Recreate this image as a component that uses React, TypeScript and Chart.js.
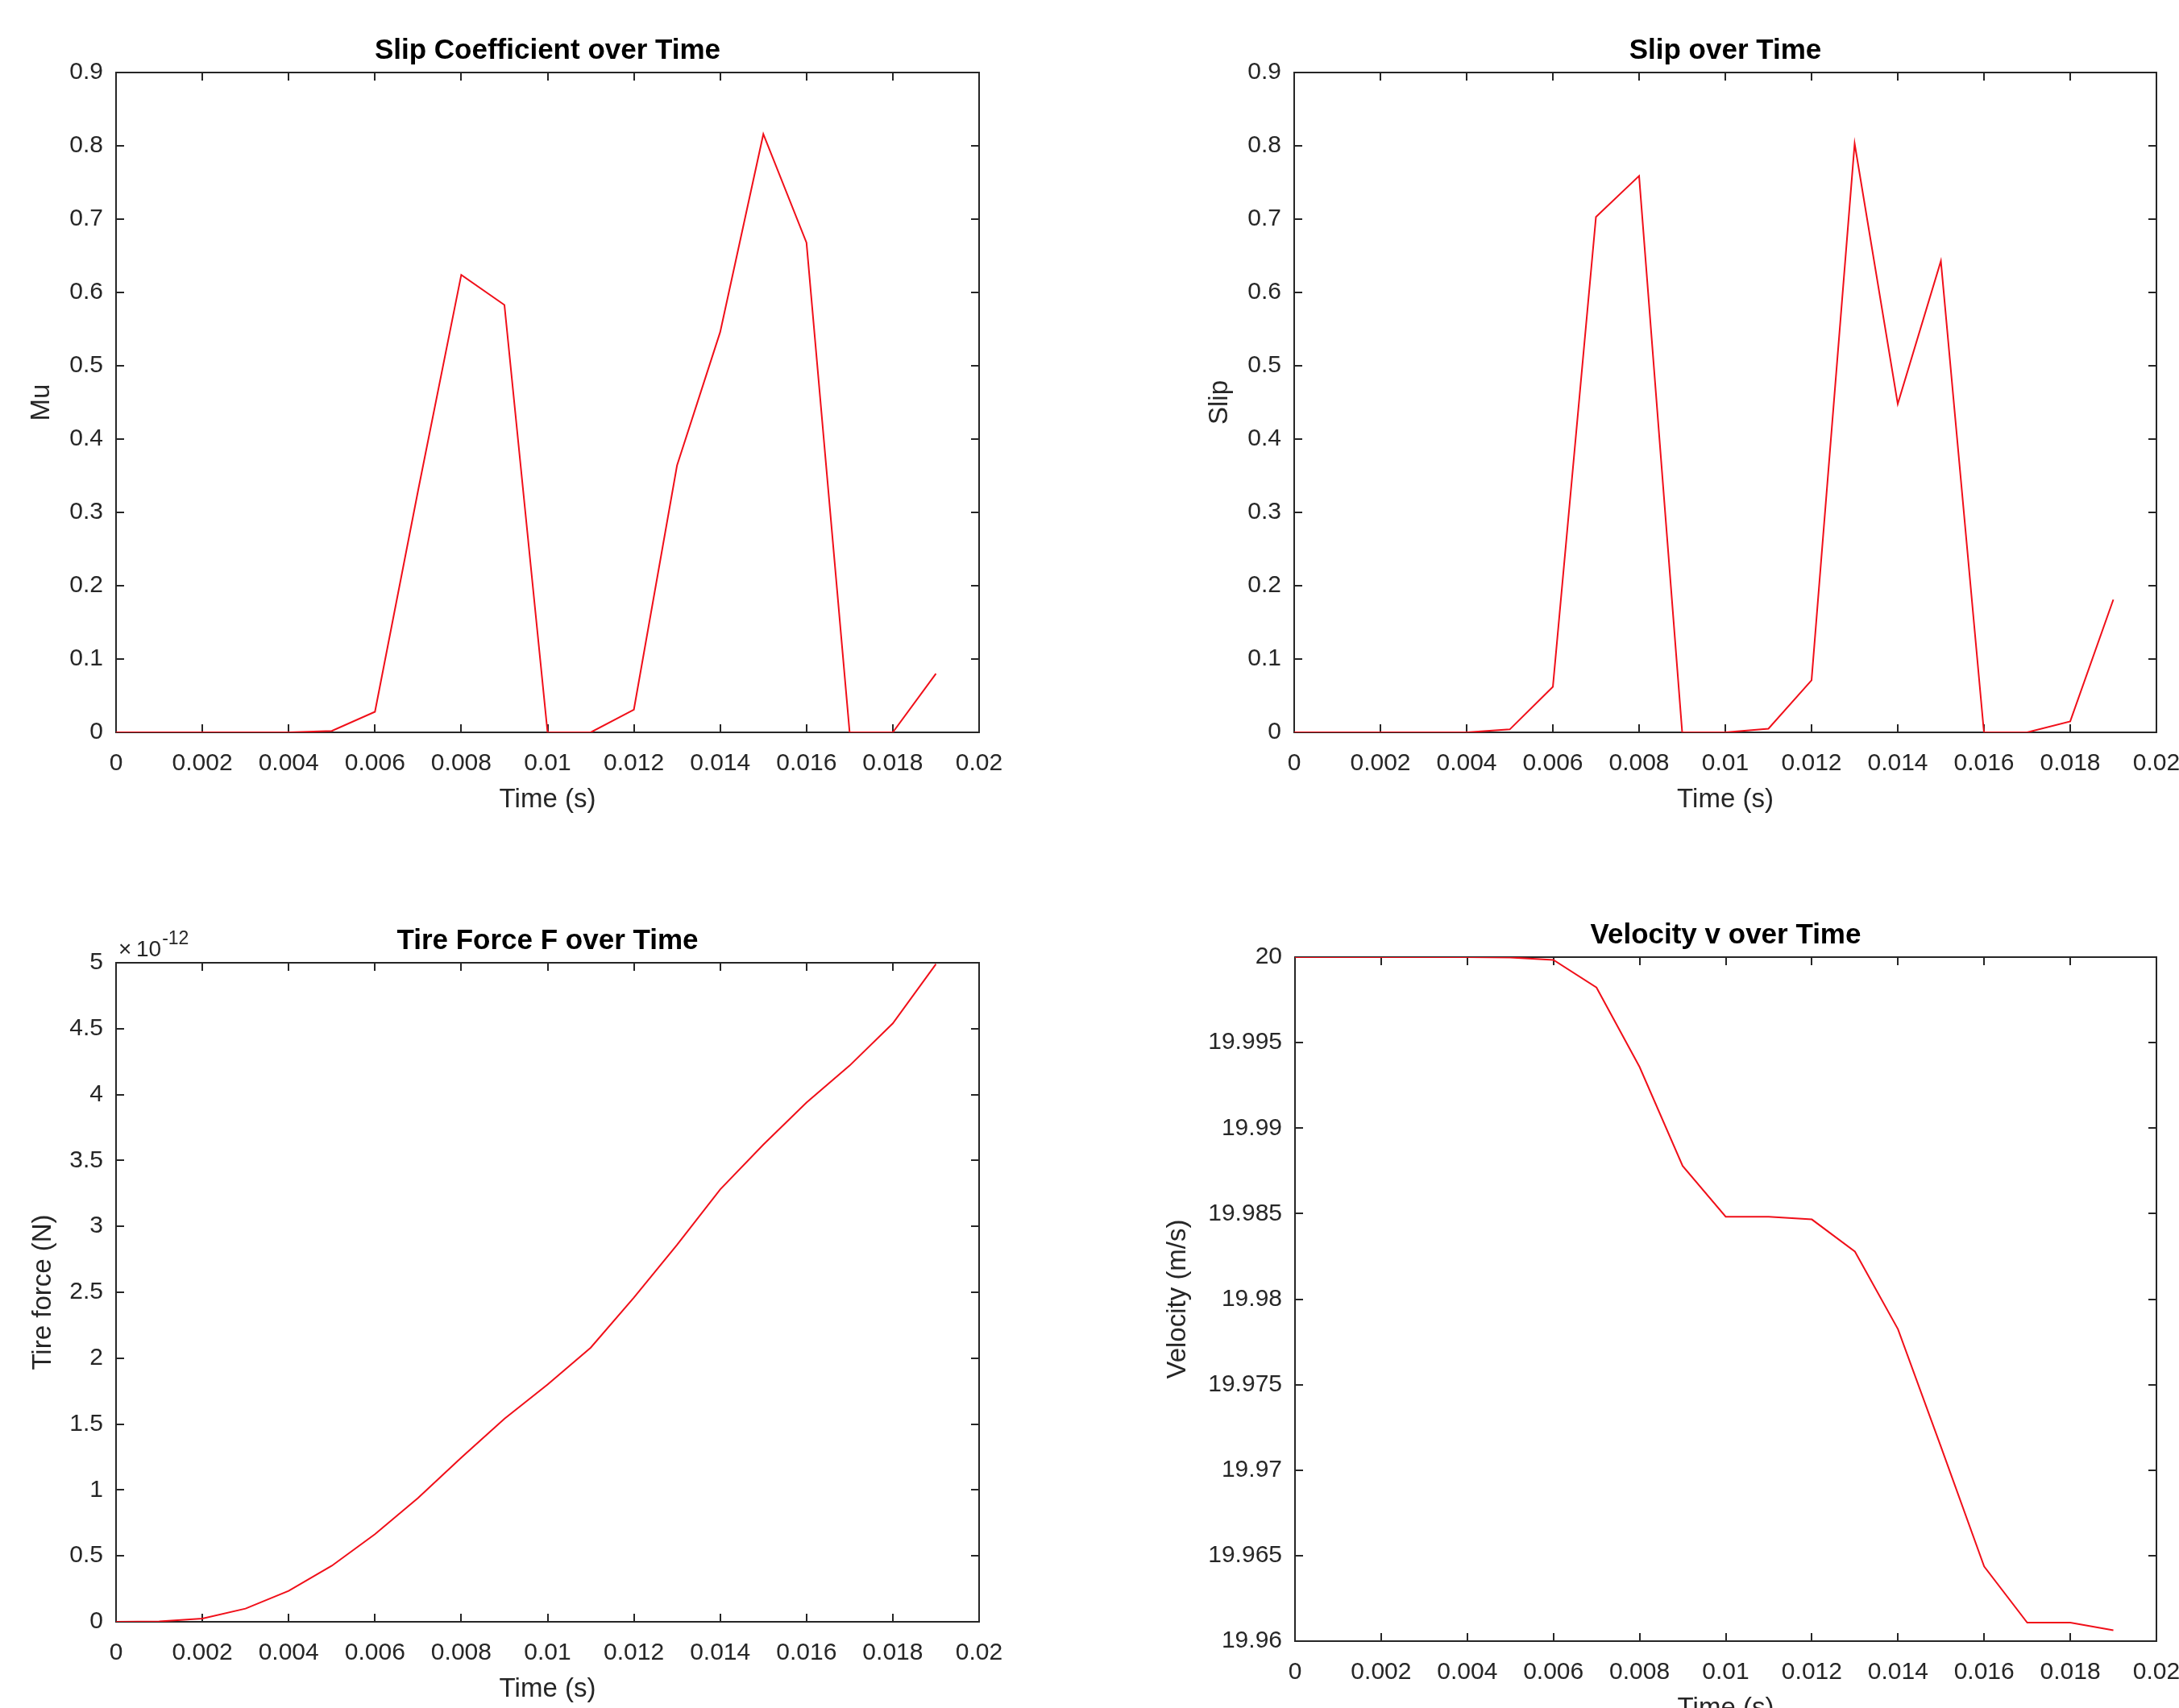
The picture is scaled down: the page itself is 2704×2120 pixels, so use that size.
import React, { useEffect, useRef } from "react";
import { Chart, registerables } from "chart.js";

Chart.register(...registerables);

// ---------- data ----------
const timeS = [0, 0.001, 0.002, 0.003, 0.004, 0.005, 0.006, 0.007, 0.008, 0.009, 0.01, 0.011, 0.012, 0.013, 0.014, 0.015, 0.016, 0.017, 0.018, 0.019];
const muValues = [0, 0, 0, 0, 0, 0.002, 0.028, 0.33, 0.624, 0.583, 0, 0, 0.031, 0.364, 0.546, 0.816, 0.668, 0, 0, 0.08];
const slipValues = [0, 0, 0, 0, 0, 0.004, 0.062, 0.703, 0.759, 0, 0, 0.005, 0.071, 0.803, 0.448, 0.643, 0, 0, 0.015, 0.181];
const tireForceValues = [0, 0.003e-12, 0.025e-12, 0.1e-12, 0.235e-12, 0.425e-12, 0.665e-12, 0.94e-12, 1.246e-12, 1.54e-12, 1.8e-12, 2.08e-12, 2.46e-12, 2.86e-12, 3.28e-12, 3.62e-12, 3.94e-12, 4.22e-12, 4.54e-12, 4.99e-12];
const velocityValues = [20, 20, 20, 20, 20, 19.99998, 19.99984, 19.99822, 19.99358, 19.98779, 19.98482, 19.98482, 19.98466, 19.98278, 19.97824, 19.97135, 19.96437, 19.96108, 19.96108, 19.96064];

const timeTicks = [0, 0.002, 0.004, 0.006, 0.008, 0.01, 0.012, 0.014, 0.016, 0.018, 0.02];
const timeTickLabels = ["0", "0.002", "0.004", "0.006", "0.008", "0.01", "0.012", "0.014", "0.016", "0.018", "0.02"];
const unitTicks = [0, 0.1, 0.2, 0.3, 0.4, 0.5, 0.6, 0.7, 0.8, 0.9];
const unitTickLabels = ["0", "0.1", "0.2", "0.3", "0.4", "0.5", "0.6", "0.7", "0.8", "0.9"];
const forceTicks = [0, 0.5e-12, 1e-12, 1.5e-12, 2e-12, 2.5e-12, 3e-12, 3.5e-12, 4e-12, 4.5e-12, 5e-12];
const forceTickLabels = ["0", "0.5", "1", "1.5", "2", "2.5", "3", "3.5", "4", "4.5", "5"];
const velocityTicks = [19.96, 19.965, 19.97, 19.975, 19.98, 19.985, 19.99, 19.995, 20];
const velocityTickLabels = ["19.96", "19.965", "19.97", "19.975", "19.98", "19.985", "19.99", "19.995", "20"];

// ---------- style ----------
const FONT = "'Liberation Sans', Arial, Helvetica, sans-serif";
const AXIS_COLOR = "#262626";
const LINE_COLOR = "rgb(240,15,25)";
const TICK_SIZE = 30;
const LABEL_SIZE = 33;
const TITLE_SIZE = 35;

type Panel = {
  key: string;
  canvas: { x: number; y: number; w: number; h: number };
  area: { l: number; t: number; r: number; b: number };
  title: string;
  yLabel: string;
  yLabelDist: number;
  values: number[];
  yTicks: number[];
  yTickLabels: string[];
  yMin: number;
  yMax: number;
  exponent?: string;
};

const panels: Panel[] = [
  {
    key: "mu",
    canvas: { x: 0, y: 0, w: 1352, h: 1060 },
    area: { l: 144, t: 90, r: 1215, b: 909 },
    title: "Slip Coefficient over Time",
    yLabel: "Mu",
    yLabelDist: 92,
    values: muValues,
    yTicks: unitTicks,
    yTickLabels: unitTickLabels,
    yMin: 0,
    yMax: 0.9,
  },
  {
    key: "slip",
    canvas: { x: 1352, y: 0, w: 1400, h: 1060 },
    area: { l: 1606, t: 90, r: 2676, b: 909 },
    title: "Slip over Time",
    yLabel: "Slip",
    yLabelDist: 92,
    values: slipValues,
    yTicks: unitTicks,
    yTickLabels: unitTickLabels,
    yMin: 0,
    yMax: 0.9,
  },
  {
    key: "force",
    canvas: { x: 0, y: 1060, w: 1352, h: 1100 },
    area: { l: 144, t: 1195, r: 1215, b: 2013 },
    title: "Tire Force F over Time",
    yLabel: "Tire force (N)",
    yLabelDist: 90,
    values: tireForceValues,
    yTicks: forceTicks,
    yTickLabels: forceTickLabels,
    yMin: 0,
    yMax: 5e-12,
    exponent: "-12",
  },
  {
    key: "velocity",
    canvas: { x: 1352, y: 1060, w: 1400, h: 1100 },
    area: { l: 1607, t: 1188, r: 2676, b: 2037 },
    title: "Velocity v over Time",
    yLabel: "Velocity (m/s)",
    yLabelDist: 145,
    values: velocityValues,
    yTicks: velocityTicks,
    yTickLabels: velocityTickLabels,
    yMin: 19.96,
    yMax: 20,
  },
];

const boxPlugin = {
  id: "matlabBox",
  beforeDatasetsDraw(chart: any) {
    const { ctx, chartArea } = chart;
    const { left, top, right, bottom } = chartArea;
    const xs = chart.scales.x;
    const ys = chart.scales.y;
    const tl = 10;
    ctx.save();
    ctx.strokeStyle = AXIS_COLOR;
    ctx.lineWidth = 2;
    ctx.strokeRect(left, top, right - left, bottom - top);
    ctx.beginPath();
    xs.ticks.forEach((t: any) => {
      const px = Math.round(xs.getPixelForValue(t.value));
      ctx.moveTo(px, bottom);
      ctx.lineTo(px, bottom - tl);
      ctx.moveTo(px, top);
      ctx.lineTo(px, top + tl);
    });
    ys.ticks.forEach((t: any) => {
      const py = Math.round(ys.getPixelForValue(t.value));
      ctx.moveTo(left, py);
      ctx.lineTo(left + tl, py);
      ctx.moveTo(right, py);
      ctx.lineTo(right - tl, py);
    });
    ctx.stroke();
    ctx.restore();
  },
};

function makeExponentPlugin(exp: string) {
  return {
    id: "exponentLabel",
    afterDraw(chart: any) {
      const { ctx, chartArea } = chart;
      const x0 = chartArea.left + 3;
      const base = chartArea.top - 8;
      ctx.save();
      ctx.fillStyle = AXIS_COLOR;
      ctx.textBaseline = "alphabetic";
      ctx.textAlign = "left";
      ctx.font = `28px ${FONT}`;
      ctx.fillText("\u00d7", x0, base);
      ctx.fillText("10", x0 + 22, base);
      const w10 = ctx.measureText("10").width;
      ctx.font = `23px ${FONT}`;
      ctx.fillText(exp, x0 + 22 + w10 + 1, base - 15);
      ctx.restore();
    },
  };
}

function PanelChart({ p }: { p: Panel }) {
  const ref = useRef<HTMLCanvasElement | null>(null);
  const c = p.canvas;
  const a = p.area;

  useEffect(() => {
    if (!ref.current) return;
    const titleLH = TITLE_SIZE * 1.2;
    const titlePadBottom = 27 - titleLH / 2;
    const titleH = titleLH + titlePadBottom;
    const labelLH = LABEL_SIZE * 1.2;
    const tickFont = { family: FONT, size: TICK_SIZE };
    const labelFont = { family: FONT, size: LABEL_SIZE, lineHeight: 1.2 };

    const plugins: any[] = [boxPlugin];
    if (p.exponent) plugins.push(makeExponentPlugin(p.exponent));

    const chart = new Chart(ref.current, {
      type: "scatter",
      data: {
        datasets: [
          {
            data: timeS.map((t, i) => ({ x: t, y: p.values[i] })),
            showLine: true,
            borderColor: LINE_COLOR,
            backgroundColor: LINE_COLOR,
            borderWidth: 2,
            pointRadius: 0,
            pointHoverRadius: 0,
            tension: 0,
            fill: false,
          } as any,
        ],
      },
      options: {
        animation: false,
        responsive: false,
        maintainAspectRatio: false,
        events: [],
        layout: {
          autoPadding: false,
          padding: {
            left: 0,
            top: a.t - c.y - titleH,
            right: c.x + c.w - a.r,
            bottom: 0,
          },
        } as any,
        plugins: {
          legend: { display: false },
          tooltip: { enabled: false },
          title: {
            display: true,
            text: p.title,
            fullSize: false,
            color: "#000",
            font: { family: FONT, size: TITLE_SIZE, weight: "bold", lineHeight: 1.2 },
            padding: { top: 0, bottom: titlePadBottom },
          },
        },
        scales: {
          x: {
            type: "linear",
            position: "bottom",
            min: 0,
            max: 0.02,
            grid: { display: false, drawTicks: false },
            border: { display: false },
            ticks: {
              padding: 21,
              color: AXIS_COLOR,
              font: tickFont,
              maxRotation: 0,
              minRotation: 0,
              autoSkip: false,
              callback: (_v: any, i: number) => timeTickLabels[i],
            },
            afterBuildTicks: (s: any) => {
              s.ticks = timeTicks.map((v) => ({ value: v }));
            },
            afterFit: (s: any) => {
              s.height = c.y + c.h - a.b;
              s.paddingLeft = 0;
              s.paddingRight = 0;
            },
            title: {
              display: true,
              text: "Time (s)",
              color: AXIS_COLOR,
              font: labelFont,
              padding: { top: 0, bottom: c.y + c.h - labelLH / 2 - a.b - 84 },
            },
          },
          y: {
            type: "linear",
            position: "left",
            min: p.yMin,
            max: p.yMax,
            grid: { display: false, drawTicks: false },
            border: { display: false },
            ticks: {
              padding: 16,
              color: AXIS_COLOR,
              font: tickFont,
              autoSkip: false,
              callback: (_v: any, i: number) => p.yTickLabels[i],
            },
            afterBuildTicks: (s: any) => {
              s.ticks = p.yTicks.map((v) => ({ value: v }));
            },
            afterFit: (s: any) => {
              s.width = a.l - c.x;
              s.paddingTop = 0;
              s.paddingBottom = 0;
            },
            title: {
              display: true,
              text: p.yLabel,
              color: AXIS_COLOR,
              font: labelFont,
              padding: { top: a.l - p.yLabelDist - c.x - labelLH / 2, bottom: 0 },
            },
          },
        },
      } as any,
      plugins,
    });
    return () => chart.destroy();
  }, []);

  return (
    <canvas
      ref={ref}
      width={c.w}
      height={c.h}
      style={{ position: "absolute", left: c.x, top: c.y, width: c.w, height: c.h }}
    />
  );
}

export default function App() {
  return (
    <div
      style={{
        position: "absolute",
        left: 0,
        top: 0,
        width: 2704,
        height: 2120,
        overflow: "hidden",
        background: "#fff",
      }}
    >
      {panels.map((p) => (
        <PanelChart key={p.key} p={p} />
      ))}
    </div>
  );
}
